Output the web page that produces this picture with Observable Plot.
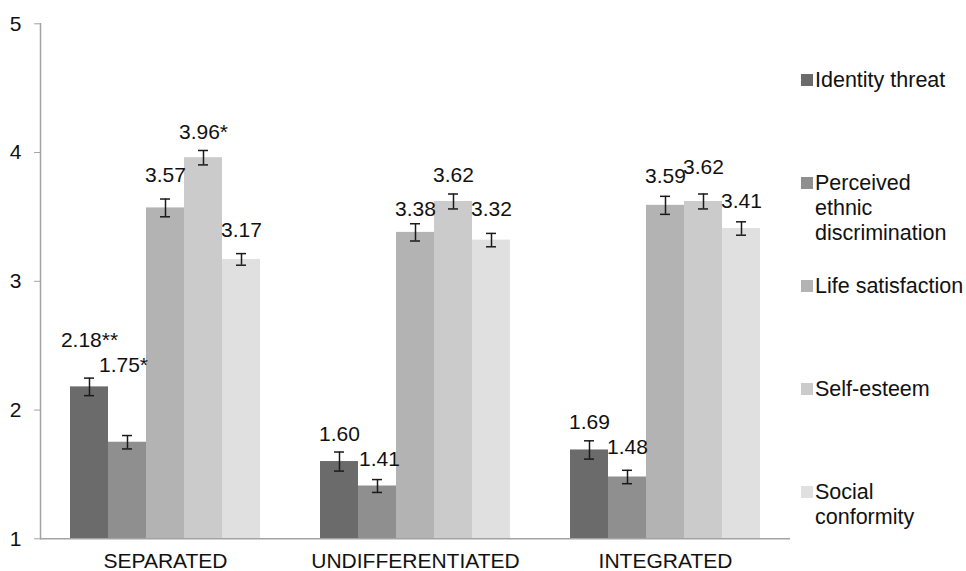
<!DOCTYPE html>
<html>
<head>
<meta charset="utf-8">
<script src="https://cdn.jsdelivr.net/npm/d3@7"></script>
<script src="https://cdn.jsdelivr.net/npm/@observablehq/plot@0.6"></script>
<style>
  body { margin: 0; background: #fff; }
  #wrap { position: relative; width: 966px; height: 571px; overflow: hidden;
          font-family: "Liberation Sans", Arial, sans-serif; color: #111; }
  .item { position: absolute; left: 801px; font-size: 21.5px; line-height: 25px; }
  .sw { position: absolute; left: 0; top: 6.5px; width: 12px; height: 12px; }
  .tx { position: absolute; left: 14px; top: 0; white-space: nowrap; }
</style>
</head>
<body>
<div id="wrap"></div>
<script>
// ---- data ----
const groups = ["SEPARATED", "UNDIFFERENTIATED", "INTEGRATED"];
const measures = ["Identity threat", "Perceived ethnic discrimination", "Life satisfaction", "Self-esteem", "Social conformity"];
const legendLines = [["Identity threat"], ["Perceived", "ethnic", "discrimination"], ["Life satisfaction"], ["Self-esteem"], ["Social", "conformity"]];
const separated        = [2.18, 1.75, 3.57, 3.96, 3.17];
const undifferentiated = [1.60, 1.41, 3.38, 3.62, 3.32];
const integrated       = [1.69, 1.48, 3.59, 3.62, 3.41];
const separatedErr        = [0.068, 0.052, 0.069, 0.056, 0.045];
const undifferentiatedErr = [0.074, 0.050, 0.067, 0.058, 0.052];
const integratedErr       = [0.071, 0.052, 0.070, 0.058, 0.052];
const separatedSig        = ["**", "*", "", "*", ""];
const undifferentiatedSig = ["", "", "", "", ""];
const integratedSig       = ["", "", "", "", ""];
const yTicks = [1, 2, 3, 4, 5];

// ---- styling ----
const colors = ["#6b6b6b", "#8f8f8f", "#b3b3b3", "#cbcbcb", "#e0e0e0"];
const axisGray = "#a3a3a3";
// label lift above bar top (px) and horizontal nudge, as placed in the original
const labelLift = [[40, 70, 26, 19, 22], [21, 20, 16, 19, 24], [21, 23, 22, 27, 21]];
const labelShift = [[0, -4, 0, 0, 0], [0, 2, 0, 0, 0], [0, 0, 0, 0, 0]];

const values = [separated, undifferentiated, integrated];
const errs = [separatedErr, undifferentiatedErr, integratedErr];
const sigs = [separatedSig, undifferentiatedSig, integratedSig];

const data = groups.flatMap((g, gi) => measures.map((m, mi) => ({
  group: g, measure: m, value: values[gi][mi], err: errs[gi][mi],
  label: values[gi][mi].toFixed(2) + sigs[gi][mi],
  lift: labelLift[gi][mi], shift: labelShift[gi][mi]
})));

const textMarks = d3.groups(data, d => d.lift + "|" + d.shift).map(([k, rows]) =>
  Plot.text(rows, {
    fx: "group", x: "measure", y: "value", text: "label",
    lineAnchor: "bottom", dy: -rows[0].lift, dx: rows[0].shift,
    fontSize: 21, fill: "#111"
  })
);

const chart = Plot.plot({
  width: 966,
  height: 571,
  marginLeft: 40,
  marginRight: 175.3,
  marginTop: 23.3,
  marginBottom: 32.7,
  style: { fontFamily: "'Liberation Sans', Arial, sans-serif", fontSize: "21px", color: "#111", background: "transparent" },
  fx: { domain: groups, padding: 0, label: null },
  x: { domain: measures, paddingInner: 0, paddingOuter: 0.741, axis: null },
  y: { domain: [1, 5], label: null },
  color: { domain: measures, range: colors },
  marks: [
    Plot.barY(data, { fx: "group", x: "measure", y1: 1, y2: "value", fill: "measure" }),
    Plot.ruleY([1], { stroke: axisGray, strokeWidth: 1.5 }),
    Plot.frame({ anchor: "left", facetAnchor: "left", stroke: axisGray, strokeWidth: 1.5 }),
    Plot.axisY({ ticks: yTicks, tickFormat: d => String(d), tickSize: 6, tickPadding: 13,
                 stroke: axisGray, fill: "#111", fontSize: 21, label: null }),
    Plot.axisFx({ anchor: "bottom", tickSize: 0, tickPadding: 14, fontSize: 21, fill: "#111", label: null }),
    Plot.ruleX(data, { fx: "group", x: "measure", y1: d => d.value - d.err, y2: d => d.value + d.err,
                       stroke: "#1a1a1a", strokeWidth: 1.5 }),
    Plot.tickY(data, { fx: "group", x: "measure", y: d => d.value - d.err, stroke: "#1a1a1a",
                       strokeWidth: 1.5, insetLeft: 14, insetRight: 14 }),
    Plot.tickY(data, { fx: "group", x: "measure", y: d => d.value + d.err, stroke: "#1a1a1a",
                       strokeWidth: 1.5, insetLeft: 14, insetRight: 14 }),
    ...textMarks
  ]
});

const wrap = document.getElementById("wrap");
wrap.appendChild(chart);

// legend (HTML, to the right of the plot)
measures.forEach((m, i) => {
  const item = document.createElement("div");
  item.className = "item";
  item.style.top = (80 + 103 * i - 12.5) + "px";
  const sw = document.createElement("div");
  sw.className = "sw";
  sw.style.background = colors[i];
  const tx = document.createElement("div");
  tx.className = "tx";
  tx.innerHTML = legendLines[i].map(s => s.replace(/&/g, "&amp;")).join("<br>");
  item.appendChild(sw);
  item.appendChild(tx);
  wrap.appendChild(item);
});
</script>
</body>
</html>
